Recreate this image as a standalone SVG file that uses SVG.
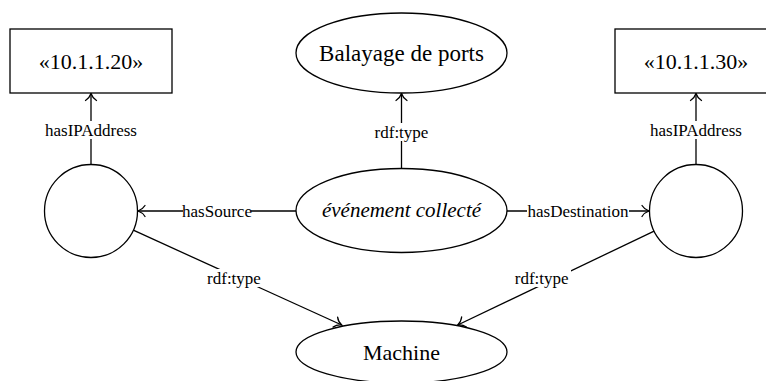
<svg xmlns="http://www.w3.org/2000/svg" width="766" height="381" viewBox="0 0 766 381">
<defs>
<style>
.shape{fill:#fff;stroke:#000;stroke-width:1.3}
.edge{fill:none;stroke:#000;stroke-width:1.3}
.nt{font-size:22px;fill:#000;text-anchor:middle;dominant-baseline:central}
.lt{font-size:17px;fill:#000;text-anchor:middle;dominant-baseline:central}
.lbg{fill:#fff;stroke:none}
</style>
<marker id="arr" markerUnits="userSpaceOnUse" markerWidth="14" markerHeight="14" viewBox="-8 -7 10 14" refX="0" refY="0" orient="auto">
<path d="M-7,-5.5 C-5,-2.2 -1.5,-0.5 0,0 C-1.5,0.5 -5,2.2 -7,5.5" fill="none" stroke="#000" stroke-width="1.3" stroke-linecap="round"/>
</marker>
</defs>
<rect width="766" height="381" fill="#fff"/>
<g font-family="'Liberation Serif', 'DejaVu Serif', 'Times New Roman', serif">
<g id="connectors">
<g id="e1"><line class="edge" x1="91" y1="164.5" x2="91" y2="93.5" marker-end="url(#arr)"/><rect class="lbg" x="44" y="121" width="94" height="18"/><text class="lt" x="91" y="130">hasIPAddress</text></g>
<g id="e2"><line class="edge" x1="401.5" y1="168.5" x2="401.5" y2="93.5" marker-end="url(#arr)"/><rect class="lbg" x="373" y="123" width="57" height="18"/><text class="lt" x="401.5" y="132">rdf:type</text></g>
<g id="e3"><line class="edge" x1="696" y1="164.5" x2="696" y2="93.5" marker-end="url(#arr)"/><rect class="lbg" x="649" y="121" width="94" height="18"/><text class="lt" x="696" y="130">hasIPAddress</text></g>
<g id="e4"><line class="edge" x1="296" y1="211" x2="138" y2="211" marker-end="url(#arr)"/><rect class="lbg" x="183" y="202" width="68" height="18"/><text class="lt" x="217" y="211">hasSource</text></g>
<g id="e5"><line class="edge" x1="507" y1="211" x2="649" y2="211" marker-end="url(#arr)"/><rect class="lbg" x="527" y="202" width="102" height="18"/><text class="lt" x="578" y="211">hasDestination</text></g>
<g id="e6"><line class="edge" x1="133.3" y1="230.2" x2="341.7" y2="325" marker-end="url(#arr)"/><rect class="lbg" x="205" y="269" width="58" height="18"/><text class="lt" x="234" y="278">rdf:type</text></g>
<g id="e7"><line class="edge" x1="654.1" y1="231.1" x2="457.7" y2="325" marker-end="url(#arr)"/><rect class="lbg" x="513" y="269" width="58" height="18"/><text class="lt" x="541.7" y="278">rdf:type</text></g>
</g>
<g id="ip20"><rect class="shape" x="10" y="29" width="162" height="64"/><text class="nt" x="91" y="61">«10.1.1.20»</text></g>
<g id="ip30"><rect class="shape" x="615" y="29" width="162" height="64"/><text class="nt" x="696" y="61">«10.1.1.30»</text></g>
<g id="balayage"><ellipse class="shape" cx="401.5" cy="53" rx="105.5" ry="40"/><text class="nt" x="401.5" y="53" style="font-size:23px">Balayage de ports</text></g>
<g id="evenement"><ellipse class="shape" cx="401.5" cy="210.5" rx="105.5" ry="42"/><text class="nt" x="401.5" y="210" style="font-size:21px;font-style:italic">événement collecté</text></g>
<g id="src"><circle class="shape" cx="91" cy="211" r="46.5"/></g>
<g id="dst"><circle class="shape" cx="696" cy="211" r="46.5"/></g>
<g id="machine"><ellipse class="shape" cx="401.5" cy="352" rx="105.5" ry="31"/><text class="nt" x="401.5" y="352">Machine</text></g>
</g>
</svg>
